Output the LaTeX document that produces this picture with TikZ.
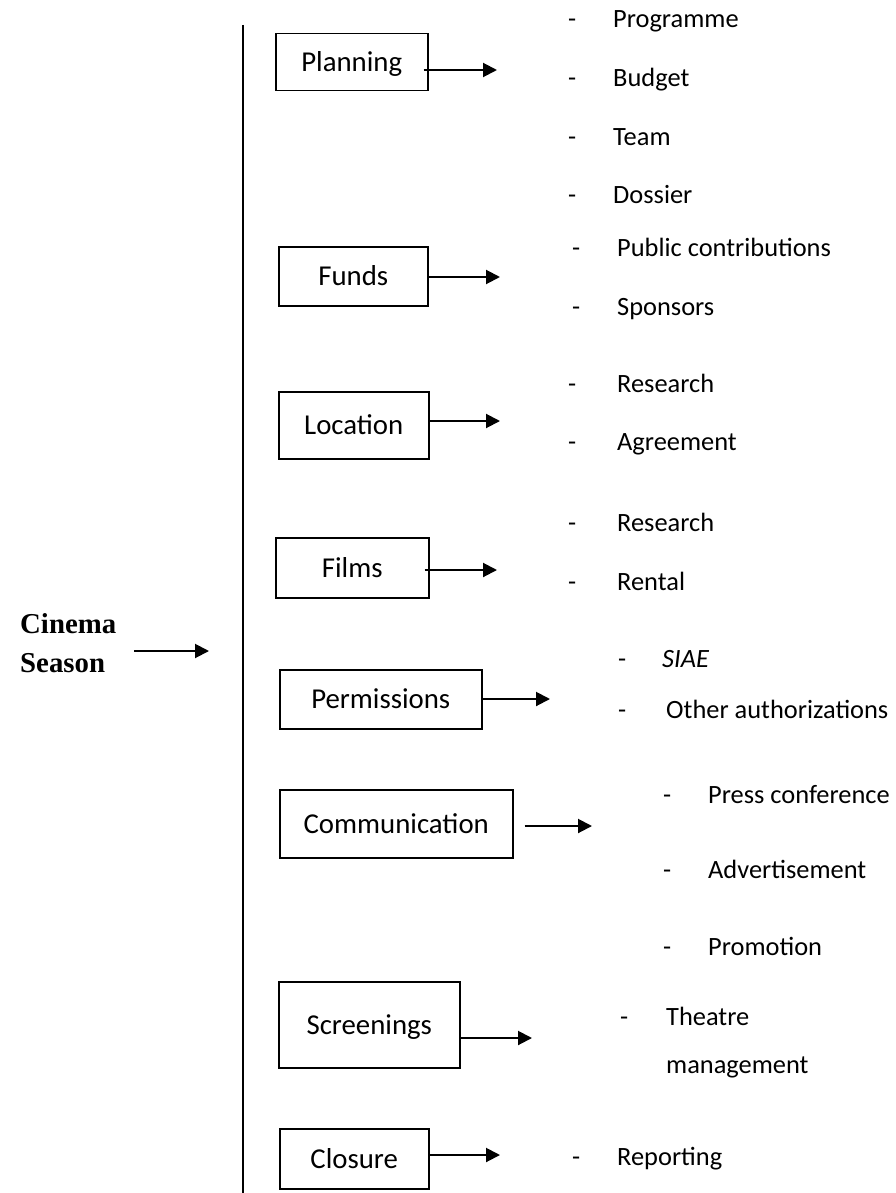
\documentclass[tikz,border=0pt]{standalone}
\usepackage{fontspec}
\setmainfont{Carlito}
\newfontfamily\headfont{Liberation Serif}
\usetikzlibrary{arrows.meta}
\begin{document}
\begin{tikzpicture}[x=1pt,y=-1pt,
  box/.style={draw,line width=1.5pt,inner sep=0pt,anchor=north west,
    font=\fontsize{28.8}{30}\selectfont,text height=18.5pt,text depth=0pt},
  arr/.style={line width=2pt,-{Triangle[length=14pt,width=14pt]}},
  item/.style={anchor=base west,inner sep=0pt,font=\fontsize{26.4}{30}\selectfont},
  head/.style={anchor=base west,inner sep=0pt,font=\headfont\bfseries\fontsize{28.8}{34}\selectfont},
]
\useasboundingbox (0,0) rectangle (896,1193);

% title and the spine of the season
\node[head] (title1) at (20,633) {Cinema};
\node[head] (title2) at (20,672) {Season};
\coordinate (spineIn) at (209,651);
\coordinate (spineTop) at (243,25);
\coordinate (spineBot) at (243,1200);
\draw[line width=1.5pt] (spineTop) -- (spineBot);
\draw[arr] ([xshift=29pt]title2.east |- spineIn) -- (spineIn);

% phase boxes
\node[box,minimum width=152pt,minimum height=57pt] (plan) at (275,33) {Planning};
\node[box,minimum width=149pt,minimum height=59pt] (funds) at (278,246) {Funds};
\node[box,minimum width=150pt,minimum height=67pt] (loc) at (278,391) {Location};
\node[box,minimum width=153pt,minimum height=60pt] (films) at (275,537) {Films};
\node[box,minimum width=202pt,minimum height=59pt] (perm) at (279,669) {Permissions};
\node[box,minimum width=233pt,minimum height=68pt] (comm) at (279,789) {Communication};
\node[box,minimum width=181pt,minimum height=86pt] (scr) at (278,981) {Screenings};
\node[box,minimum width=149pt,minimum height=60pt] (clos) at (279,1128) {Closure};

% arrow tips
\coordinate (planTip) at (497,70);
\coordinate (fundsTip) at (500,277);
\coordinate (locTip) at (500,421);
\coordinate (filmsTip) at (497,570);
\coordinate (permTip) at (550,699);
\coordinate (commTip) at (592,826);
\coordinate (scrTip) at (532,1038);
\coordinate (closTip) at (500,1155);

\draw[arr] ([xshift=-5pt]plan.east |- planTip) -- (planTip);
\draw[arr] (funds.east |- fundsTip) -- (fundsTip);
\draw[arr] (loc.east |- locTip) -- (locTip);
\draw[arr] ([xshift=-5pt]films.east |- filmsTip) -- (filmsTip);
\draw[arr] (perm.east |- permTip) -- (permTip);
\draw[arr] ([xshift=11pt]comm.east |- commTip) -- (commTip);
\draw[arr] (scr.east |- scrTip) -- (scrTip);
\draw[arr] (clos.east |- closTip) -- (closTip);

% task lists
\node[item] (d1) at (568,28) {-};   \node[item] (t1) at (613,28) {Programme};
\node[item] (d2) at (568,87) {-};   \node[item] (t2) at (613,87) {Budget};
\node[item] (d3) at (568,146) {-};  \node[item] (t3) at (613,146) {Team};
\node[item] (d4) at (568,204) {-};  \node[item] (t4) at (613,204) {Dossier};
\node[item] (d5) at (572,256) {-};  \node[item] (t5) at (617,256) {Public contributions};
\node[item] (d6) at (572,315) {-};  \node[item] (t6) at (617,315) {Sponsors};
\node[item] (d7) at (568,392) {-};  \node[item] (t7) at (617,392) {Research};
\node[item] (d8) at (568,450) {-};  \node[item] (t8) at (617,450) {Agreement};
\node[item] (d9) at (568,531) {-};  \node[item] (t9) at (617,531) {Research};
\node[item] (d10) at (568,590) {-}; \node[item] (t10) at (617,590) {Rental};
\node[item] (d11) at (618,667) {-}; \node[item] (t11) at (662,667) {\itshape SIAE};
\node[item] (d12) at (618,718) {-}; \node[item] (t12) at (666,718) {Other authorizations};
\node[item] (d13) at (663,803) {-}; \node[item] (t13) at (708,803) {Press conference};
\node[item] (d14) at (663,878) {-}; \node[item] (t14) at (708,878) {Advertisement};
\node[item] (d15) at (663,955) {-}; \node[item] (t15) at (708,955) {Promotion};
\node[item] (d16) at (620,1025) {-}; \node[item] (t16) at (666,1025) {Theatre};
\node[item] (t17) at (666,1073) {management};
\node[item] (d18) at (572,1165) {-}; \node[item] (t18) at (617,1165) {Reporting};
\end{tikzpicture}
\end{document}
